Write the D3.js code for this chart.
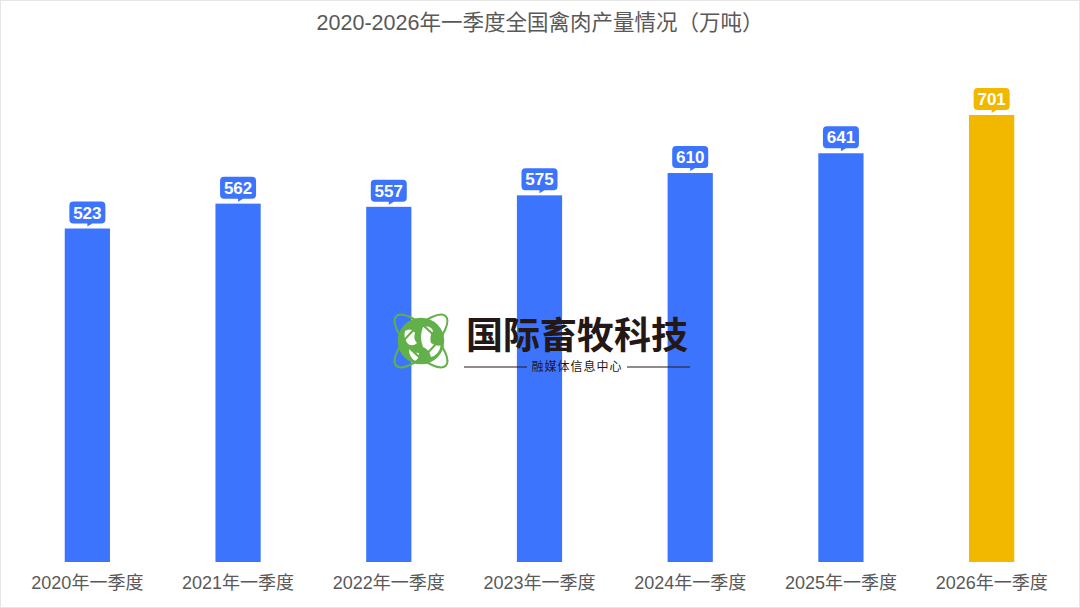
<!DOCTYPE html>
<html>
<head>
<meta charset="utf-8">
<script src="https://cdn.jsdelivr.net/npm/d3@7"></script>
<style>
  body { margin: 0; background: #fff; }
  svg text { font-family: "Liberation Sans", "Noto Sans CJK SC", sans-serif; }
</style>
</head>
<body>
<svg id="chart"></svg>
<script>
// Chart data
const categories = ["2020年一季度", "2021年一季度", "2022年一季度", "2023年一季度", "2024年一季度", "2025年一季度", "2026年一季度"];
const values = [523, 562, 557, 575, 610, 641, 701];
const title = "2020-2026年一季度全国禽肉产量情况（万吨）";

const W = 1080, H = 608;
const margin = { top: 0, right: 13, bottom: 46, left: 12 };
const baseY = H - margin.bottom; // 562

const svg = d3.select("#chart").attr("width", W).attr("height", H);

// light frame
svg.append("rect")
    .attr("x", 0.5).attr("y", 0.5)
    .attr("width", W - 1).attr("height", H - 1)
    .attr("fill", "#fff")
    .attr("stroke", "#e6e6e6");

// Title
svg.append("text")
    .attr("x", W / 2).attr("y", 30)
    .attr("text-anchor", "middle")
    .attr("font-size", 21.5)
    .attr("fill", "#595959")
    .text(title);

// Scales
const x = d3.scaleBand()
    .domain(categories)
    .range([margin.left, W - margin.right])
    .paddingInner(0.7)
    .paddingOuter(0.35);

const y = d3.scaleLinear()
    .domain([0, 701])
    .range([baseY, 115]);

// x axis (labels only)
const xAxis = svg.append("g")
    .attr("transform", `translate(0,${baseY})`)
    .call(d3.axisBottom(x).tickSize(0).tickPadding(14));
xAxis.select(".domain").remove();
xAxis.selectAll("text")
    .attr("font-size", 18)
    .attr("fill", "#595959")
    .attr("font-family", "'Liberation Sans', 'Noto Sans CJK SC', sans-serif");

const colorOf = (d, i) => i === values.length - 1 ? "#f2b800" : "#3c74fe";

// Bars
svg.selectAll(".bar")
    .data(values)
    .enter().append("rect")
    .attr("class", "bar")
    .attr("x", (d, i) => x(categories[i]))
    .attr("y", d => y(d))
    .attr("width", x.bandwidth())
    .attr("height", d => baseY - y(d))
    .attr("fill", colorOf);

// Label bubbles
const bw = 36, bh = 22;
const bubble = svg.selectAll(".bubble")
    .data(values)
    .enter().append("g")
    .attr("class", "bubble")
    .attr("transform", (d, i) => `translate(${x(categories[i]) + x.bandwidth() / 2},${y(d) - 5})`);

bubble.append("path")
    .attr("d", () => {
        const l = -bw / 2, r = bw / 2, t = -bh, b = 0, rr = 4;
        return `M${l + rr},${t} H${r - rr} Q${r},${t} ${r},${t + rr} V${b - rr} Q${r},${b} ${r - rr},${b}` +
               ` H5 L0,${b + 3} L0,${b} H${l + rr} Q${l},${b} ${l},${b - rr} V${t + rr} Q${l},${t} ${l + rr},${t} Z`;
    })
    .attr("fill", colorOf);

bubble.append("text")
    .attr("x", 0).attr("y", -5)
    .attr("text-anchor", "middle")
    .attr("font-size", 17)
    .attr("font-weight", "bold")
    .attr("fill", "#fff")
    .text(d => d);

// Watermark logo
const logo = svg.append("g");
const green = "#62b04a";
const gx = 421, gy = 341;
logo.append("circle").attr("cx", gx).attr("cy", gy).attr("r", 22).attr("fill", green);
// oceans
logo.append("path")
    .attr("d", `M${gx - 16},${gy - 10} q6,-4 10,2 q-2,6 2,10 q-4,4 -9,1 q-5,-6 -3,-13 Z`)
    .attr("fill", "#fff");
logo.append("path")
    .attr("d", `M${gx + 2},${gy - 14} q8,-2 10,4 q-4,6 -2,12 q6,4 10,2 q-2,10 -10,12 q-2,-8 -8,-10 q-4,-10 0,-20 Z`)
    .attr("fill", "#fff");
logo.append("path")
    .attr("d", `M${gx - 12},${gy + 8} q4,4 10,4 q0,6 -4,8 q-6,-4 -6,-12 Z`)
    .attr("fill", "#fff");
logo.append("circle").attr("cx", gx).attr("cy", gy).attr("r", 22)
    .attr("fill", "none").attr("stroke", green).attr("stroke-width", 2.5);
[45, -45].forEach(a => {
    logo.append("ellipse")
        .attr("cx", gx).attr("cy", gy)
        .attr("rx", 35).attr("ry", 13)
        .attr("fill", "none")
        .attr("stroke", green)
        .attr("stroke-width", 2)
        .attr("transform", `rotate(${a},${gx},${gy})`);
});

logo.append("text")
    .attr("x", 577).attr("y", 349)
    .attr("text-anchor", "middle")
    .attr("font-size", 37)
    .attr("font-weight", "bold")
    .attr("fill", "#231815")
    .attr("font-family", "'Noto Sans CJK SC', sans-serif")
    .text("国际畜牧科技");

logo.append("line").attr("x1", 464).attr("x2", 527).attr("y1", 367).attr("y2", 367)
    .attr("stroke", "#231815").attr("stroke-width", 1.2);
logo.append("line").attr("x1", 627).attr("x2", 690).attr("y1", 367).attr("y2", 367)
    .attr("stroke", "#231815").attr("stroke-width", 1.2);
logo.append("text")
    .attr("x", 577).attr("y", 371)
    .attr("text-anchor", "middle")
    .attr("font-size", 12)
    .attr("letter-spacing", 1)
    .attr("fill", "#231815")
    .attr("font-family", "'Noto Sans CJK SC', sans-serif")
    .text("融媒体信息中心");
</script>
</body>
</html>
